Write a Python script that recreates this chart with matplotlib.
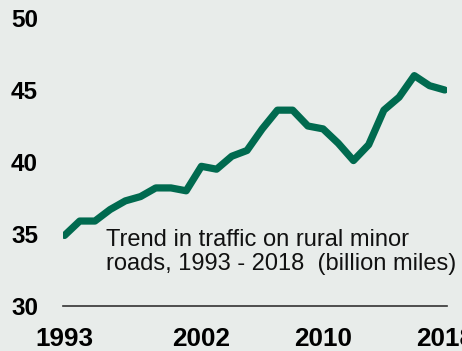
import matplotlib
matplotlib.use("Agg")
import matplotlib.pyplot as plt

years = list(range(1993, 2019))
traffic = [34.9, 35.9, 35.9, 36.7, 37.3, 37.6, 38.2, 38.2, 38.0, 39.7,
           39.5, 40.4, 40.8, 42.3, 43.6, 43.6, 42.5, 42.3, 41.3, 40.1,
           41.2, 43.6, 44.5, 46.0, 45.3, 45.0]
x_ticks = [1993, 2002, 2010, 2018]
y_ticks = [30, 35, 40, 45, 50]
note = "Trend in traffic on rural minor\nroads, 1993 - 2018  (billion miles)"

bg = '#e8ecea'
green = '#006a4f'

plt.rcParams['font.family'] = ['Liberation Sans', 'DejaVu Sans']

fig = plt.figure(figsize=(4.62, 3.51), dpi=100, facecolor=bg)
ax = fig.add_axes([63 / 462, 45 / 351, 384 / 462, 288 / 351])
ax.set_facecolor(bg)

ax.plot(years, traffic, color=green, lw=5.2, solid_capstyle='round',
        solid_joinstyle='round')

ax.set_xlim(1992.9, 2018.15)
ax.set_ylim(30, 50)
ax.set_xticks(x_ticks)
ax.set_yticks(y_ticks)
ax.tick_params(length=0)
ax.tick_params(axis='x', pad=15, labelsize=18.8)
ax.tick_params(axis='y', pad=18, labelsize=17.5)
for lab in ax.get_xticklabels() + ax.get_yticklabels():
    lab.set_fontweight('bold')

for s in ['top', 'right', 'left']:
    ax.spines[s].set_visible(False)
ax.spines['bottom'].set_color('#333333')
ax.spines['bottom'].set_linewidth(1.2)

ax.text(1995.75, 33.75, note, fontsize=17, color='#111111',
        va='center', ha='left', linespacing=1.1)

fig.savefig('out.png', dpi=100, facecolor=bg)
